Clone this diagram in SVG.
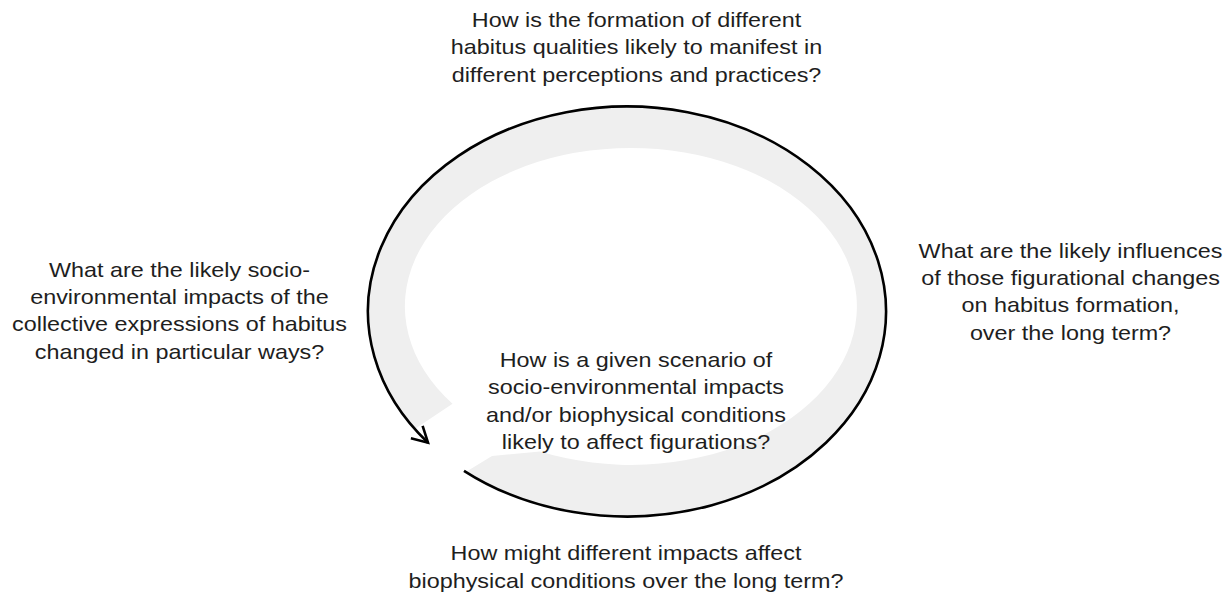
<svg xmlns="http://www.w3.org/2000/svg" width="1232" height="600" viewBox="0 0 1232 600">
  <style>
    .q { font-family: "Liberation Sans", Arial, sans-serif; font-size: 20.5px; fill: #1e1e1e; text-anchor: middle; }
    .band { fill: #efefef; stroke: none; }
    .loop { fill: none; stroke: #000; stroke-width: 2.6; }
  </style>
  <defs>
    <marker id="arrow" markerUnits="userSpaceOnUse" markerWidth="26" markerHeight="26" viewBox="-20 -13 26 26" refX="0" refY="0" orient="auto">
      <path d="M -15.5 -8.5 L 0 0 L -15.5 8.5" fill="none" stroke="#000" stroke-width="2.6" stroke-linejoin="miter"/>
    </marker>
  </defs>
  <rect width="1232" height="600" fill="#ffffff"/>

  <g id="band">
    <path class="band" d="M 465.8 471.9 A 259 205 0 1 0 414.8 429.1 L 452.5 403.7 A 226 158.5 0 1 1 540 451.5 L 492 456 Z"/>
  </g>

  <g id="connectors">
    <path class="loop" d="M 464 470.8 A 259 205 0 1 0 428 442.7" marker-end="url(#arrow)"/>
  </g>

  <g id="q-top" transform="translate(636.5,0) scale(1.14,1)">
    <text class="q" x="0" y="27.3">How is the formation of different</text>
    <text class="q" x="0" y="54.5">habitus qualities likely to manifest in</text>
    <text class="q" x="0" y="81.7">different perceptions and practices?</text>
  </g>

  <g id="q-right" transform="translate(1070.5,0) scale(1.14,1)">
    <text class="q" x="0" y="258">What are the likely influences</text>
    <text class="q" x="0" y="285.2">of those figurational changes</text>
    <text class="q" x="0" y="312.4">on habitus formation,</text>
    <text class="q" x="0" y="339.6">over the long term?</text>
  </g>

  <g id="q-center" transform="translate(636,0) scale(1.14,1)">
    <text class="q" x="0" y="367">How is a given scenario of</text>
    <text class="q" x="0" y="394.3">socio-environmental impacts</text>
    <text class="q" x="0" y="421.6">and/or biophysical conditions</text>
    <text class="q" x="0" y="448.9">likely to affect figurations?</text>
  </g>

  <g id="q-bottom" transform="translate(626,0) scale(1.14,1)">
    <text class="q" x="0" y="560.5">How might different impacts affect</text>
    <text class="q" x="0" y="587.7">biophysical conditions over the long term?</text>
  </g>

  <g id="q-left" transform="translate(179.5,0) scale(1.14,1)">
    <text class="q" x="0" y="277">What are the likely socio-</text>
    <text class="q" x="0" y="304.2">environmental impacts of the</text>
    <text class="q" x="0" y="331.4">collective expressions of habitus</text>
    <text class="q" x="0" y="358.6">changed in particular ways?</text>
  </g>
</svg>
